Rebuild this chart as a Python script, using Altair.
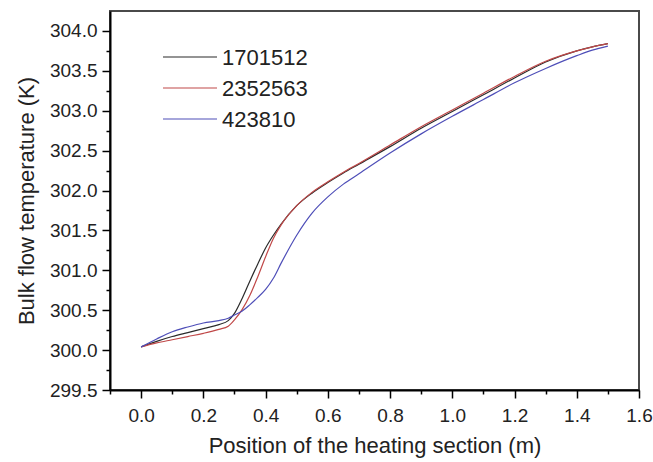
import altair as alt
import pandas as pd

positions = [0, 0.05, 0.1, 0.15, 0.2, 0.25, 0.28, 0.3, 0.325, 0.35, 0.375, 0.4, 0.425,
             0.45, 0.5, 0.55, 0.6, 0.65, 0.7, 0.8, 0.9, 1.0, 1.1, 1.2, 1.3, 1.4, 1.45, 1.5]
series_names = ["1701512", "2352563", "423810"]
temp_1701512 = [300.04, 300.11, 300.17, 300.22, 300.27, 300.32, 300.37, 300.46, 300.65, 300.87,
                301.08, 301.28, 301.44, 301.58, 301.81, 301.97, 302.10, 302.22, 302.33, 302.55,
                302.78, 302.99, 303.20, 303.41, 303.61, 303.75, 303.80, 303.84]
temp_2352563 = [300.04, 300.09, 300.13, 300.17, 300.21, 300.26, 300.30, 300.38, 300.51, 300.69,
                300.92, 301.17, 301.40, 301.57, 301.81, 301.98, 302.11, 302.23, 302.34, 302.57,
                302.80, 303.01, 303.22, 303.43, 303.62, 303.75, 303.80, 303.84]
temp_423810 = [300.04, 300.14, 300.23, 300.29, 300.34, 300.37, 300.40, 300.44, 300.49, 300.57,
               300.66, 300.76, 300.90, 301.09, 301.44, 301.72, 301.92, 302.08, 302.21, 302.47,
               302.71, 302.93, 303.14, 303.35, 303.53, 303.69, 303.76, 303.81]
colors = ["#2b2b2b", "#c04848", "#4e4eb8"]

rows = []
for name, vals in zip(series_names, [temp_1701512, temp_2352563, temp_423810]):
    for xv, yv in zip(positions, vals):
        rows.append({"pos": xv, "temp": yv, "series": name})
df = pd.DataFrame(rows)
legend_df = pd.DataFrame({"series": series_names})

x_ticks = [round(-0.1 + 0.1 * i, 1) for i in range(18)]
y_ticks = [299.5 + 0.25 * i for i in range(19)]

FONT = "Liberation Sans"
color_scale = alt.Scale(domain=series_names, range=colors)

lines = alt.Chart(df).mark_line(strokeWidth=1.2, interpolate="monotone").encode(
    x=alt.X("pos:Q",
            scale=alt.Scale(domain=[-0.1, 1.6], nice=False, zero=False),
            axis=alt.Axis(
                values=x_ticks,
                title="Position of the heating section (m)",
                labelExpr="abs(round(datum.value*10)) % 2 == 0 ? format(datum.value, '.1f') : ''",
                tickSize={"condition": {"test": "abs(round(datum.value*10)) % 2 == 0", "value": 8}, "value": 4},
                labelOverlap=False, labelFlush=False, grid=False,
                labelFontSize=19, titleFontSize=22, titleFontWeight="normal",
                labelPadding=8, titlePadding=10,
                labelColor="#222222", titleColor="#222222",
                domainColor="#000000", domainWidth=2, tickColor="#000000", tickWidth=1.5,
            )),
    y=alt.Y("temp:Q",
            scale=alt.Scale(domain=[299.5, 304.25], nice=False, zero=False),
            axis=alt.Axis(
                values=y_ticks,
                title="Bulk flow temperature (K)",
                labelExpr="round(datum.value*4) % 2 == 0 ? format(datum.value, '.1f') : ''",
                tickSize={"condition": {"test": "round(datum.value*4) % 2 == 0", "value": 8}, "value": 4},
                labelOverlap=False, labelFlush=False, grid=False,
                labelFontSize=19, titleFontSize=22, titleFontWeight="normal",
                labelPadding=5, titlePadding=11,
                labelColor="#222222", titleColor="#222222",
                domainColor="#000000", domainWidth=2, tickColor="#000000", tickWidth=1.5,
            )),
    color=alt.Color("series:N", scale=color_scale, sort=series_names, legend=None),
)

legend_y = alt.Y("series:N", sort=series_names,
                 scale=alt.Scale(type="point", domain=series_names, range=[46, 108], padding=0),
                 axis=None)

legend_lines = alt.Chart(legend_df).mark_rule(strokeWidth=1.2).encode(
    x=alt.value(53), x2=alt.value(107),
    y=legend_y,
    color=alt.Color("series:N", scale=color_scale, sort=series_names, legend=None),
)
legend_text = alt.Chart(legend_df).mark_text(
    align="left", baseline="middle", fontSize=22, color="#222222", dy=1,
).encode(
    x=alt.value(112),
    y=legend_y,
    text="series:N",
)
legend = alt.layer(legend_lines, legend_text)

chart = alt.layer(lines, legend).resolve_scale(
    y="independent"
).properties(
    width=529, height=379,
    autosize=alt.AutoSizeParams(type="none"),
    padding={"left": 110, "top": 11, "right": 14, "bottom": 72},
).configure(
    font=FONT,
).configure_view(
    stroke="#4a4a4a", strokeWidth=2,
)

chart.save("out.html", embed_options={"renderer": "svg", "actions": False})
